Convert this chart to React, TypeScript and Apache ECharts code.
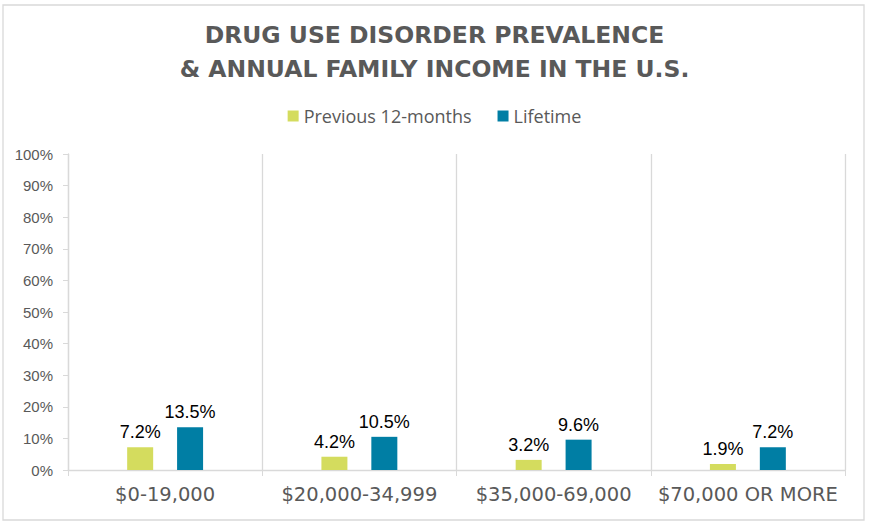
import React, { useEffect, useRef } from "react";
import * as echarts from "echarts";

const categories = ["$0-19,000", "$20,000-34,999", "$35,000-69,000", "$70,000 OR MORE"];
const previous12 = [7.2, 4.2, 3.2, 1.9];
const lifetime = [13.5, 10.5, 9.6, 7.2];
const seriesNames = ["Previous 12-months", "Lifetime"];
const titleLines = ["DRUG USE DISORDER PREVALENCE", "& ANNUAL FAMILY INCOME IN THE U.S."];

const GRAY = "#595959";
const LINE = "#d9d9d9";

export default function App() {
  const ref = useRef<HTMLDivElement>(null);
  useEffect(() => {
    const chart = echarts.init(ref.current!, null, { renderer: "svg" });
    const label = {
      show: true,
      position: "top",
      distance: 6,
      formatter: (p: any) => p.value.toFixed(1) + "%",
      color: "#000",
      fontFamily: "Liberation Sans",
      fontSize: 18,
    };
    chart.setOption({
      animation: false,
      backgroundColor: "#fff",
      title: {
        text: titleLines.join("\n"),
        left: "center",
        top: 13,
        textStyle: {
          fontFamily: "DejaVu Sans",
          fontWeight: "bold",
          fontSize: 23.5,
          lineHeight: 34,
          color: GRAY,
        },
      },
      legend: {
        top: 102,
        left: "center",
        itemWidth: 11,
        itemHeight: 11,
        itemGap: 26,
        icon: "rect",
        textStyle: { fontFamily: "Open Sans", fontSize: 18, color: GRAY },
        data: seriesNames,
      },
      graphic: [
        {
          type: "rect",
          shape: { x: 3, y: 5, width: 861, height: 515 },
          style: { fill: "none", stroke: LINE, lineWidth: 1.3 },
          silent: true,
        },
      ],
      grid: { left: 68, right: 24, top: 154, bottom: 54 },
      xAxis: {
        type: "category",
        data: categories,
        axisLine: { show: true, lineStyle: { color: LINE, width: 1.3 } },
        axisTick: { show: true, length: 6, interval: 0, lineStyle: { color: LINE } },
        splitLine: { show: true, interval: 0, lineStyle: { color: LINE, width: 1.3 } },
        axisLabel: {
          margin: 14,
          interval: 0,
          fontFamily: "DejaVu Sans",
          fontSize: 19.5,
          color: GRAY,
        },
      },
      yAxis: {
        type: "value",
        min: 0,
        max: 100,
        interval: 10,
        axisLine: { show: true, lineStyle: { color: LINE, width: 1.3 } },
        axisTick: { show: true, length: 5, lineStyle: { color: LINE } },
        splitLine: { show: false },
        axisLabel: {
          margin: 15,
          formatter: "{value}%",
          fontFamily: "Liberation Sans",
          fontSize: 15,
          color: GRAY,
        },
      },
      series: [
        {
          name: seriesNames[0],
          type: "bar",
          data: previous12,
          barWidth: 26,
          barGap: "92%",
          itemStyle: { color: "#d4dc5e" },
          label,
        },
        {
          name: seriesNames[1],
          type: "bar",
          data: lifetime,
          barWidth: 26,
          itemStyle: { color: "#007ea4" },
          label,
        },
      ],
    });
    return () => chart.dispose();
  }, []);
  return (
    <div
      ref={ref}
      style={{ position: "fixed", left: 0, top: 0, width: 869, height: 524 }}
    />
  );
}
